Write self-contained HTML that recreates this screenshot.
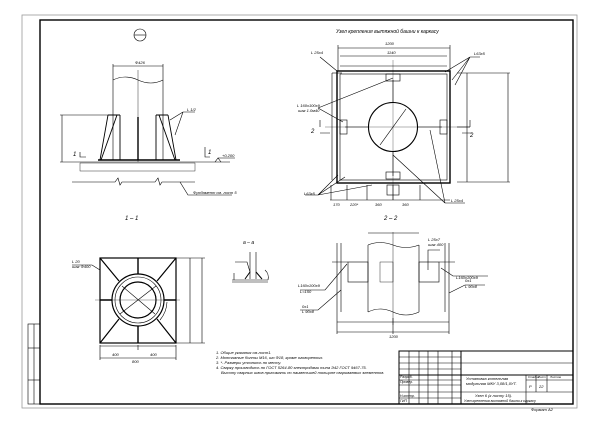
<!DOCTYPE html>
<html><head><meta charset="utf-8"><style>
html,body{margin:0;padding:0;background:#fff}
svg{display:block}
text{font-family:"Liberation Sans","DejaVu Sans",sans-serif;font-style:italic;fill:#000}
</style></head><body>
<svg width="600" height="424" viewBox="0 0 600 424" xmlns="http://www.w3.org/2000/svg">
<g fill="none" stroke="#000" stroke-width="0.6">
<!-- frames -->
<rect x="22" y="15" width="555" height="393" stroke="#999" stroke-width="0.8"/>
<rect x="40" y="20" width="533" height="384" stroke-width="1.4"/>
<!-- left stamp -->
<rect x="28" y="324" width="12" height="80"/>
<line x1="34" y1="324" x2="34" y2="404"/>
<line x1="28" y1="348" x2="40" y2="348"/><line x1="28" y1="380" x2="40" y2="380"/>

<!-- title block -->
<rect x="399" y="351" width="174" height="53" stroke-width="1"/>
<line x1="399" y1="357" x2="461" y2="357"/><line x1="399" y1="363" x2="573" y2="363"/>
<line x1="399" y1="369" x2="461" y2="369"/><line x1="399" y1="375" x2="573" y2="375" stroke-width="1"/>
<line x1="399" y1="380" x2="461" y2="380"/><line x1="399" y1="385" x2="461" y2="385"/>
<line x1="399" y1="392" x2="573" y2="392"/><line x1="399" y1="398" x2="461" y2="398"/>
<line x1="409" y1="351" x2="409" y2="404"/><line x1="419" y1="351" x2="419" y2="404"/>
<line x1="428" y1="351" x2="428" y2="404"/><line x1="438" y1="351" x2="438" y2="404"/>
<line x1="452" y1="351" x2="452" y2="404"/><line x1="461" y1="351" x2="461" y2="404" stroke-width="1"/>
<line x1="526" y1="375" x2="526" y2="404"/><line x1="536" y1="375" x2="536" y2="392"/>
<line x1="547" y1="375" x2="547" y2="392"/><line x1="526" y1="380" x2="573" y2="380"/>

<!-- TOP LEFT elevation -->
<circle cx="140" cy="35" r="6"/><line x1="134" y1="35" x2="146" y2="35"/>
<line x1="113" y1="80" x2="113" y2="160"/><line x1="163" y1="80" x2="163" y2="160"/>
<path d="M113 80 Q125 74 138 80 T163 80"/>
<line x1="138" y1="70" x2="138" y2="162" stroke-width="0.4"/>
<line x1="113" y1="66" x2="163" y2="66"/><line x1="113" y1="64" x2="113" y2="80"/><line x1="163" y1="64" x2="163" y2="80"/>
<path d="M108 115 L100 160 M120 115 L120 160 M108 115 L120 115 M117 115 L101 160" stroke-width="0.9"/>
<path d="M168 115 L176 160 M156 115 L156 160 M156 115 L168 115 M159 115 L175 160" stroke-width="0.9"/>
<line x1="138" y1="117" x2="138" y2="160" stroke-width="1.4"/>
<line x1="98" y1="160" x2="180" y2="160" stroke-width="1.4"/>
<line x1="60" y1="162" x2="230" y2="162"/>
<rect x="80" y="163" width="115" height="8" stroke-width="0.4"/>
<path d="M72 182 L115 182 L118 178 L120 185 L122 182 L155 182 L158 178 L160 185 L162 182 L195 182"/>
<line x1="62" y1="115" x2="62" y2="162"/><line x1="60" y1="115" x2="108" y2="115"/>
<path d="M170 120 L183 112 M175 135 L183 112 L195 112"/>
<path d="M180 182 L188 195 L232 195"/>
<path d="M80 152 L80 157 L86 157 M205 147 L205 157 L210 157"/>
<path d="M215 162 L218 158 L221 162 M218 158 L235 158"/>

<!-- TOP RIGHT plan -->
<rect x="337" y="71" width="113" height="112" stroke-width="1.4"/>
<rect x="340" y="74" width="107" height="106"/>
<line x1="332" y1="73" x2="342" y2="73"/><line x1="332" y1="73" x2="332" y2="180"/>
<line x1="340" y1="66" x2="447" y2="66"/>
<circle cx="393" cy="127" r="24.5" stroke-width="1.1"/>
<line x1="345" y1="127" x2="369" y2="127"/><line x1="418" y1="127" x2="442" y2="127"/>
<line x1="393" y1="80" x2="393" y2="103"/><line x1="393" y1="152" x2="393" y2="176"/>
<line x1="325" y1="127" x2="470" y2="127" stroke-width="0.3"/>
<line x1="393" y1="60" x2="393" y2="200" stroke-width="0.3"/>
<line x1="380" y1="145" x2="406" y2="109"/>
<rect x="386" y="74" width="14" height="7"/><rect x="386" y="172" width="14" height="7"/>
<rect x="340" y="120" width="7" height="14"/><rect x="440" y="120" width="7" height="14"/>
<line x1="338" y1="48" x2="450" y2="48"/><line x1="338" y1="45" x2="338" y2="71"/><line x1="450" y1="45" x2="450" y2="71"/>
<line x1="340" y1="56" x2="447" y2="56"/>
<line x1="457" y1="73" x2="510" y2="73"/><line x1="457" y1="182" x2="510" y2="182"/><line x1="457" y1="127" x2="470" y2="127"/>
<line x1="467" y1="73" x2="467" y2="182"/><line x1="508" y1="73" x2="508" y2="182"/>
<line x1="330" y1="200" x2="450" y2="200"/>
<path d="M331 200 L331 185 M347 200 L347 185 M367 200 L367 185 M393 200 L393 185 M420 200 L420 185"/>
<path d="M320 57 L337 71 M470 57 L445 72 M470 57 L452 80 M470 57 L455 85 M470 57 L480 57"/>
<path d="M318 108 L343 122 M318 108 L393 78"/>
<path d="M318 195 L338 175 M318 195 L345 177 M318 195 L372 185 M318 195 L305 195"/>
<path d="M445 203 L393 155 M445 203 L430 130 M445 203 L465 203"/>
<path d="M320 127 L320 120 M470 127 L470 120 M320 133 L330 133 M462 133 L472 133"/>
<rect x="387" y="185" width="12" height="10"/>

<!-- Section 1-1 -->
<rect x="100" y="258" width="76" height="85" stroke-width="1.2"/>
<circle cx="138" cy="300" r="26" stroke-width="1.2"/><circle cx="138" cy="300" r="23"/><circle cx="138" cy="300" r="18" stroke-width="1.2"/>
<path d="M100 258 L119 281 M176 258 L157 281 M100 343 L119 319 M176 343 L157 319" stroke-width="1.2"/>
<path d="M138 258 L138 274 M138 326 L138 343 M100 300 L112 300 M164 300 L176 300" stroke-width="1.4"/>
<line x1="95" y1="300" x2="180" y2="300" stroke-width="0.3"/>
<line x1="120" y1="314" x2="156" y2="286"/><line x1="122" y1="286" x2="155" y2="314"/>
<path d="M176 258 L205 258 M176 343 L205 343 M190 258 L190 343 M202 258 L202 343"/>
<path d="M100 345 L100 360 M176 345 L176 360 M138 345 L138 350 M100 346 L176 346 M100 358 L176 358"/>
<path d="M100 270 L92 265 L72 265"/>
<path d="M167 302 A30 30 0 0 1 160 320"/>

<!-- a-a detail -->
<path d="M232 280 L268 280 M232 282 L268 282"/>
<path d="M250 252 L250 279 M256 252 L256 279"/>
<path d="M245 279 L250 272 M256 272 L262 279" stroke-width="1"/>
<path d="M265 270 A10 10 0 0 1 268 280"/>
<path d="M235 262 L247 262 L250 272 M234 273 L234 280"/>

<!-- Section 2-2 -->
<line x1="368" y1="245" x2="368" y2="312"/><line x1="419" y1="245" x2="419" y2="312"/>
<path d="M368 245 Q380 240 393 245 T419 245 M368 312 Q380 306 393 312 T419 312"/>
<line x1="393" y1="232" x2="393" y2="325" stroke-width="0.4"/>
<line x1="368" y1="233" x2="419" y2="233"/>
<rect x="348" y="262" width="20" height="20"/><rect x="419" y="262" width="20" height="20"/>
<rect x="380" y="262" width="13" height="20" stroke-width="0.4"/>
<path d="M337 243 L337 312 M341 243 L341 312 M445 243 L445 312 M449 243 L449 312"/>
<path d="M332 262 L348 262 M439 262 L455 262"/>
<line x1="337" y1="322" x2="449" y2="322"/><line x1="337" y1="332" x2="449" y2="332"/>
<path d="M337 312 L337 334 M449 312 L449 334 M393 318 L393 334"/>
<path d="M347 264 L325 290 L300 290 M341 290 L318 310 L300 310"/>
<path d="M428 270 L428 250 L440 250 M441 268 L453 276 L488 276 M449 293 L465 285 L485 285"/>
</g>

<g font-size="4">
<text x="336" y="33" font-size="5">Узел крепления вытяжной башни к каркасу</text>
<text x="135" y="64">Ф426</text>
<text x="187" y="111">L 1/2</text>
<text x="193" y="194">Фундамент см. лист 5</text>
<text x="222" y="157">+0.200</text>
<text x="73" y="156" font-size="6">1</text><text x="208" y="154" font-size="6">1</text>
<text x="125" y="220" font-size="6">1 – 1</text>
<text x="243" y="244" font-size="5">a – a</text>
<text x="384" y="220" font-size="6">2 – 2</text>
<text x="385" y="45">1200</text><text x="387" y="54">1140</text>
<text x="311" y="54">L 25x4</text><text x="474" y="55">L63x5</text>
<text x="297" y="107">L 160x100x9</text><text x="298" y="112">шаг 1.0м40</text>
<text x="304" y="195">L63x5</text><text x="451" y="202">L 25x4</text>
<text x="311" y="133" font-size="6">2</text><text x="470" y="137" font-size="6">2</text>
<text x="333" y="206">170</text><text x="350" y="206">220*</text><text x="375" y="206">360</text><text x="402" y="206">360</text>
<text x="72" y="263">L 20</text><text x="72" y="268">шаг Ф400</text>
<text x="112" y="356">400</text><text x="150" y="356">400</text><text x="132" y="363">800</text>
<text x="428" y="241">L 25x7</text><text x="428" y="246">шаг 400</text>
<text x="456" y="279">L160x100x9</text><text x="465" y="282">0x1</text><text x="465" y="288">L 90x8</text>
<text x="298" y="287">L160x100x9</text><text x="300" y="293">L=150</text>
<text x="302" y="308">0x1</text><text x="302" y="313">L 90x8</text>
<text x="389" y="338">1200</text>
<text x="216" y="354">1. Общие указания см.лист1.</text>
<text x="216" y="359">2. Монтажные болты М16, шп.Ф18, кроме оговоренных.</text>
<text x="216" y="364">3. *- Размеры уточнить по месту.</text>
<text x="216" y="369">4. Сварку производить по ГОСТ 5264-80 электродами типа Э42 ГОСТ 9467-75.</text>
<text x="221" y="374">Высоту сварных швов принимать по наименьшей толщине свариваемых элементов.</text>
<text x="466" y="380">Установка котельная</text>
<text x="466" y="385">модульная МКУ 3,08/1,0УТ.</text>
<text x="475" y="397">Узел 6 (к листу 15).</text>
<text x="464" y="402" font-size="3.5">Узел крепления вытяжной башни к каркасу</text>
<text x="528" y="378" font-size="3">Стадия</text><text x="538" y="378" font-size="3">Лист</text><text x="550" y="378" font-size="3">Листов</text>
<text x="529" y="388">Р</text><text x="539" y="388">22</text>
<text x="400" y="378" font-size="3.5">Разраб.</text><text x="400" y="383" font-size="3.5">Провер.</text>
<text x="400" y="397" font-size="3.5">Н.контр.</text><text x="400" y="402" font-size="3.5">ГИП</text>
<text x="531" y="411">Формат А2</text>
</g>
</svg>
</body></html>
